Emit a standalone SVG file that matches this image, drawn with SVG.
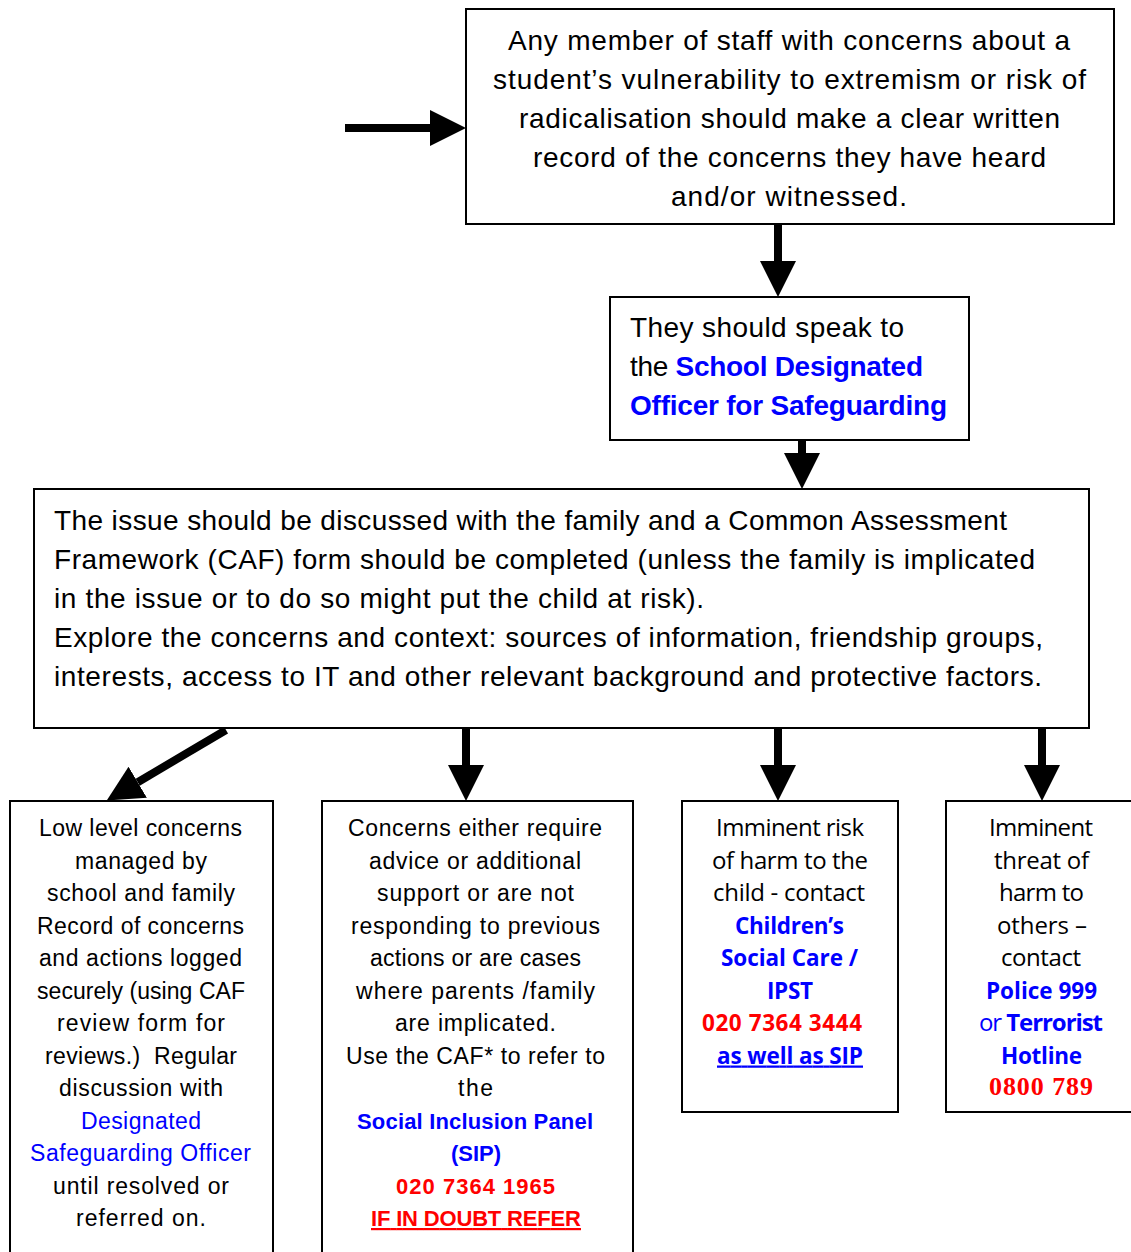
<svg xmlns="http://www.w3.org/2000/svg" width="1131" height="1252" viewBox="0 0 1131 1252">
<style>
.box{fill:#fff;stroke:#000;stroke-width:2}
.c{font-family:"Liberation Sans",Arial,sans-serif;fill:#000}
.big{font-size:28px}
.sm{font-size:23px}
.sm.b{font-size:22px}
.o{font-family:"Open Sans","Noto Sans",sans-serif;font-size:24px;fill:#000}
.o.b{font-size:22.5px}
.b{font-weight:bold}
.blue{fill:#0000ff}
.red{fill:#ff0000}
.ser{font-family:"Liberation Serif","Times New Roman",serif;font-weight:bold;font-size:26px;fill:#ff0000}
.u{text-decoration:underline}
.arr{stroke:#000;stroke-width:8;fill:none}
</style>
<defs>
<marker id="ah" viewBox="0 0 36 36" refX="0" refY="18" markerWidth="36" markerHeight="36" markerUnits="userSpaceOnUse" orient="auto">
<path d="M0,0 L36,18 L0,36 Z" fill="#000"/>
</marker>
</defs>

<g id="connectors">
<line class="arr" x1="345" y1="128" x2="430" y2="128" marker-end="url(#ah)"/>
<line class="arr" x1="778" y1="225" x2="778" y2="261" marker-end="url(#ah)"/>
<line class="arr" x1="802" y1="441" x2="802" y2="453" marker-end="url(#ah)"/>
<line class="arr" x1="226" y1="730" x2="137.7" y2="782.2" marker-end="url(#ah)"/>
<line class="arr" x1="466" y1="729" x2="466" y2="765" marker-end="url(#ah)"/>
<line class="arr" x1="778" y1="729" x2="778" y2="765" marker-end="url(#ah)"/>
<line class="arr" x1="1042" y1="729" x2="1042" y2="765" marker-end="url(#ah)"/>
</g>

<g id="node-record">
<rect class="box" x="466" y="9" width="648" height="215"/>
<text class="c big" x="508" y="50" textLength="562">Any member of staff with concerns about a</text>
<text class="c big" x="493" y="89" textLength="593">student’s vulnerability to extremism or risk of</text>
<text class="c big" x="519" y="128" textLength="541">radicalisation should make a clear written</text>
<text class="c big" x="533" y="167" textLength="513">record of the concerns they have heard</text>
<text class="c big" x="671" y="206" textLength="236">and/or witnessed.</text>
</g>

<g id="node-speak">
<rect class="box" x="610" y="297" width="359" height="143"/>
<text class="c big" x="630" y="337" textLength="274">They should speak to</text>
<text class="c big" x="630" y="376" textLength="293">the <tspan class="b blue">School Designated</tspan></text>
<text class="c big b blue" x="630" y="415" textLength="317">Officer for Safeguarding</text>
</g>

<g id="node-discuss">
<rect class="box" x="34" y="489" width="1055" height="239"/>
<text class="c big" x="54" y="530" textLength="953">The issue should be discussed with the family and a Common Assessment</text>
<text class="c big" x="54" y="569" textLength="981">Framework (CAF) form should be completed (unless the family is implicated</text>
<text class="c big" x="54" y="608" textLength="650">in the issue or to do so might put the child at risk).</text>
<text class="c big" x="54" y="647" textLength="989">Explore the concerns and context: sources of information, friendship groups,</text>
<text class="c big" x="54" y="686" textLength="988">interests, access to IT and other relevant background and protective factors.</text>
</g>

<g id="node-low">
<rect class="box" x="10" y="801" width="263" height="460"/>
<text class="c sm" x="39" y="836" textLength="203">Low level concerns</text>
<text class="c sm" x="75" y="868.5" textLength="132">managed by</text>
<text class="c sm" x="47" y="901" textLength="188">school and family</text>
<text class="c sm" x="37" y="933.5" textLength="207">Record of concerns</text>
<text class="c sm" x="39" y="966" textLength="203">and actions logged</text>
<text class="c sm" x="37" y="998.5" textLength="208">securely (using CAF</text>
<text class="c sm" x="57" y="1031" textLength="168">review form for</text>
<text class="c sm" x="45" y="1063.5" textLength="192" xml:space="preserve">reviews.)  Regular</text>
<text class="c sm" x="59" y="1096" textLength="164">discussion with</text>
<text class="c sm blue" x="81" y="1128.5" textLength="120">Designated</text>
<text class="c sm blue" x="30" y="1161" textLength="221">Safeguarding Officer</text>
<text class="c sm" x="53" y="1193.5" textLength="176">until resolved or</text>
<text class="c sm" x="76" y="1226" textLength="130">referred on.</text>
</g>

<g id="node-sip">
<rect class="box" x="322" y="801" width="311" height="460"/>
<text class="c sm" x="348" y="836" textLength="254">Concerns either require</text>
<text class="c sm" x="369" y="868.5" textLength="212">advice or additional</text>
<text class="c sm" x="377" y="901" textLength="197">support or are not</text>
<text class="c sm" x="351" y="933.5" textLength="249">responding to previous</text>
<text class="c sm" x="370" y="966" textLength="211">actions or are cases</text>
<text class="c sm" x="356" y="998.5" textLength="239">where parents /family</text>
<text class="c sm" x="395" y="1031" textLength="161">are implicated.</text>
<text class="c sm" x="346" y="1063.5" textLength="259">Use the CAF* to refer to</text>
<text class="c sm" x="458" y="1096" textLength="35">the</text>
<text class="c sm b blue" x="357" y="1128.5" textLength="236">Social Inclusion Panel</text>
<text class="c sm b blue" x="451" y="1161" textLength="50">(SIP)</text>
<text class="c sm b red" x="396" y="1193.5" textLength="159">020 7364 1965</text>
<text class="c sm b red u" x="371" y="1226" textLength="210">IF IN DOUBT REFER</text>
</g>

<g id="node-child">
<rect class="box" x="682" y="801" width="216" height="311"/>
<text class="o" x="716" y="836" textLength="148">Imminent risk</text>
<text class="o" x="712" y="868.5" textLength="156">of harm to the</text>
<text class="o" x="713" y="901" textLength="152">child - contact</text>
<text class="o b blue" x="735" y="933.5" textLength="109">Children’s</text>
<text class="o b blue" x="721" y="966" textLength="137">Social Care /</text>
<text class="o b blue" x="767" y="998.5" textLength="46">IPST</text>
<text class="o b red" x="702" y="1031" textLength="160">020 7364 3444</text>
<text class="o b blue u" x="717" y="1063.5" textLength="146">as well as SIP</text>
</g>

<g id="node-others">
<rect class="box" x="946" y="801" width="190" height="311"/>
<text class="o" x="989" y="836" textLength="104">Imminent</text>
<text class="o" x="994" y="868.5" textLength="95">threat of</text>
<text class="o" x="999" y="901" textLength="85">harm to</text>
<text class="o" x="997" y="933.5" textLength="90">others –</text>
<text class="o" x="1001" y="966" textLength="80">contact</text>
<text class="o b blue" x="986" y="998.5" textLength="111">Police 999</text>
<text class="o blue" x="979" y="1031" textLength="124">or <tspan class="b">Terrorist</tspan></text>
<text class="o b blue" x="1001" y="1063.5" textLength="81">Hotline</text>
<text class="ser" x="989" y="1095" textLength="104">0800 789</text>
</g>
</svg>
